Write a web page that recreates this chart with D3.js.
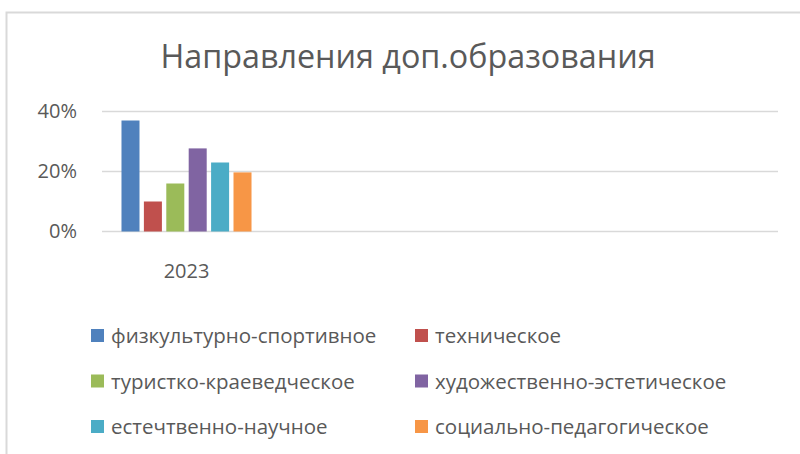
<!DOCTYPE html>
<html>
<head>
<meta charset="utf-8">
<script src="https://cdn.jsdelivr.net/npm/d3@7"></script>
<style>
  body { margin: 0; background: #fff; }
  svg { display: block; font-family: "Open Sans", sans-serif; }
</style>
</head>
<body>
<svg id="chart" width="800" height="454"></svg>
<script>
// Chart data
const title = "Направления доп.образования";
const categories = ["2023", "", "", ""];
const seriesNames = [
  "физкультурно-спортивное",
  "техническое",
  "туристко-краеведческое",
  "художественно-эстетическое",
  "естечтвенно-научное",
  "социально-педагогическое"
];
const seriesValues = [0.37, 0.10, 0.16, 0.277, 0.23, 0.197];
const yTicks = [0, 0.2, 0.4];
const colors = ["#4F81BD", "#C0504D", "#9BBB59", "#8064A2", "#4BACC6", "#F79646"];

const svg = d3.select("#chart");
const textColor = "#595959";

// Chart frame (runs past right and bottom edges)
svg.append("rect")
  .attr("x", 6.5).attr("y", 12.5)
  .attr("width", 820).attr("height", 460)
  .attr("fill", "none")
  .attr("stroke", "#d9d9d9")
  .attr("stroke-width", 2);

// Title
svg.append("text")
  .attr("x", 408).attr("y", 68)
  .attr("text-anchor", "middle")
  .attr("font-size", 32.3)
  .attr("fill", textColor)
  .text(title);

// Scales
const plot = { left: 102, right: 778, top: 111.5, bottom: 231.5 };
const x = d3.scaleBand()
  .domain(categories.map((d, i) => i))
  .range([plot.left, plot.right]);
const y = d3.scaleLinear()
  .domain([0, 0.4])
  .range([plot.bottom, plot.top]);
const xInner = d3.scaleBand()
  .domain(seriesNames)
  .range([0, x.bandwidth()])
  .paddingOuter(0.87)
  .paddingInner(0.196);

// Gridlines
svg.append("g")
  .selectAll("line")
  .data(yTicks)
  .join("line")
  .attr("x1", plot.left).attr("x2", plot.right)
  .attr("y1", d => y(d)).attr("y2", d => y(d))
  .attr("stroke", "#d9d9d9")
  .attr("stroke-width", 1.5);

// Y axis labels
const yAxis = svg.append("g")
  .attr("transform", `translate(${plot.left - 25},0)`)
  .call(d3.axisLeft(y).tickValues(yTicks).tickFormat(d3.format(".0%")).tickSize(0).tickPadding(0));
yAxis.select(".domain").remove();
yAxis.selectAll("text")
  .attr("font-size", 20)
  .attr("font-family", "Open Sans, sans-serif")
  .attr("fill", textColor);

// X axis labels
const xAxis = svg.append("g")
  .attr("transform", `translate(0,${plot.bottom + 32})`)
  .call(d3.axisBottom(x).tickFormat(i => categories[i]).tickSize(0).tickPadding(0));
xAxis.select(".domain").remove();
xAxis.selectAll("text")
  .attr("font-size", 20)
  .attr("font-family", "Open Sans, sans-serif")
  .attr("fill", textColor);

// Bars (only 2023 has values)
svg.append("g")
  .selectAll("rect")
  .data(seriesNames.map((name, i) => ({ name, value: seriesValues[i], color: colors[i] })))
  .join("rect")
  .attr("x", d => x(0) + xInner(d.name))
  .attr("y", d => y(d.value))
  .attr("width", xInner.bandwidth())
  .attr("height", d => y(0) - y(d.value))
  .attr("fill", d => d.color);

// Legend
const legend = svg.append("g");
const legendItems = legend.selectAll("g")
  .data(seriesNames)
  .join("g")
  .attr("transform", (d, i) => `translate(${i % 2 === 0 ? 91 : 415},${329 + Math.floor(i / 2) * 45.5})`);
legendItems.append("rect")
  .attr("width", 13).attr("height", 13)
  .attr("fill", (d, i) => colors[i]);
legendItems.append("text")
  .attr("x", 20).attr("y", 14)
  .attr("font-size", 20.5)
  .attr("fill", textColor)
  .text(d => d);
</script>
</body>
</html>
